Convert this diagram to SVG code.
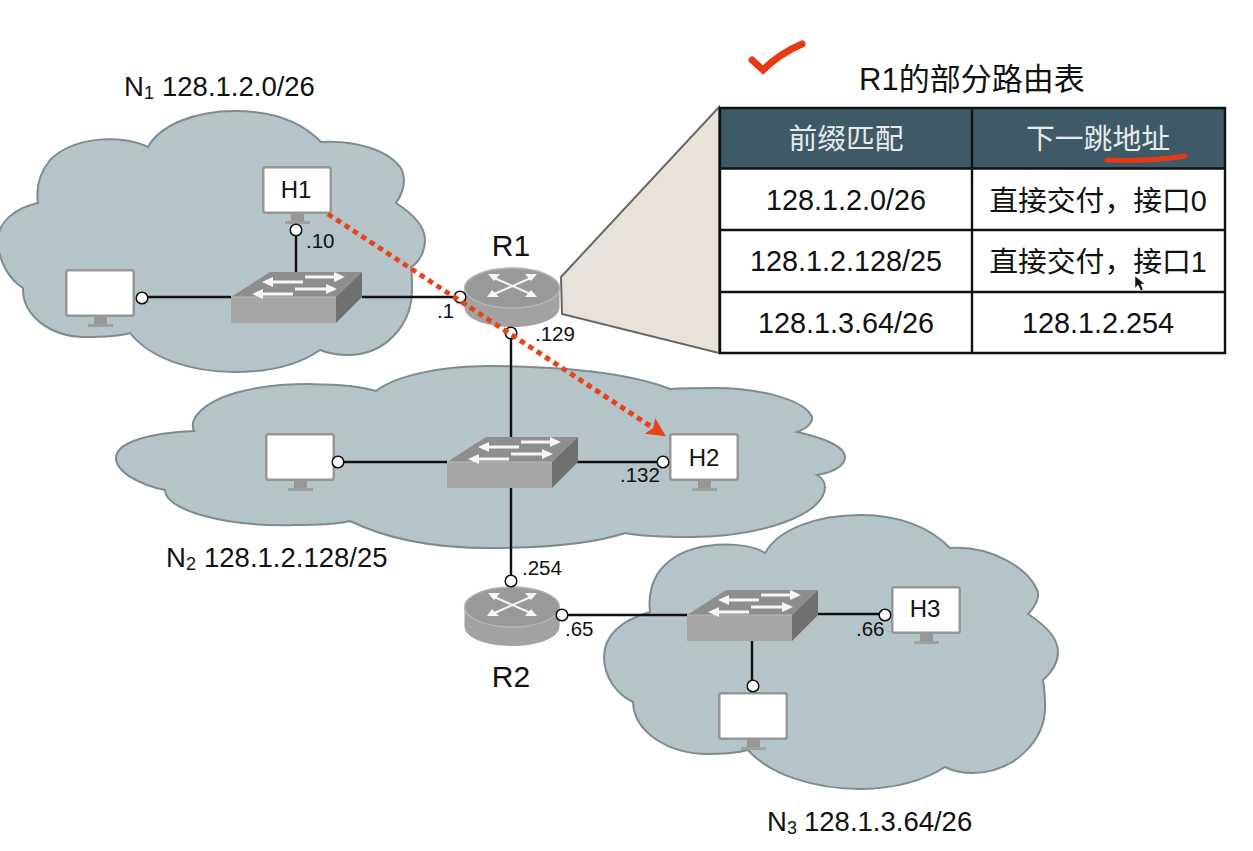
<svg xmlns="http://www.w3.org/2000/svg" xmlns:xlink="http://www.w3.org/1999/xlink" width="1253" height="851" viewBox="0 0 1253 851">
<style>
text{font-family:"Liberation Sans","Noto Sans CJK SC",sans-serif;fill:#111}
.cloud{fill:#b5c4c9;stroke:#7f8b8f;stroke-width:2}
.link{stroke:#111;stroke-width:2.4;fill:none}
.port{fill:#fff;stroke:#111;stroke-width:1.5}
.ip{font-size:20.500px}
.host{font-size:24px;text-anchor:middle}
.rname{font-size:30px;text-anchor:middle}
.net{font-size:27.500px}
.sub{font-size:18px}
.cell{font-size:28.800px;text-anchor:middle}
.head{font-size:28.800px;text-anchor:middle;fill:#e6ebec}
.grid{stroke:#111;stroke-width:2.4;fill:none}
.mark{fill:none;stroke:#e63a14;stroke-linecap:round}
</style>
<defs>
<marker id="redhead" markerUnits="userSpaceOnUse" viewBox="0 -11 22 22" markerWidth="22" markerHeight="22" refX="12" refY="0" orient="auto"><path d="M0 -9.5L19 0L0 9.5L4 0Z" fill="#e8431a"/></marker>
<g id="monitor">
<rect x="1.250" y="1.250" width="67.500" height="45.500" rx="2" fill="#fff" stroke="#979797" stroke-width="2.500"/>
<rect x="29" y="47" width="13" height="8" fill="#979797"/>
<rect x="23" y="55" width="25" height="3" fill="#a0a0a0"/>
</g>
<g id="switch">
<path d="M0 0L39 -25H131L105 0Z" fill="#8e8e8e"/>
<path d="M0 0H105V26H0Z" fill="#a6a6a6"/>
<path d="M105 0L131 -25V0L105 26Z" fill="#707070"/>
<path d="M0 0H105" stroke="#b8b8b8" stroke-width="1" fill="none"/>
<path d="M31 -15l11 -5v3.500h30v3h-30v3.500zM114 -20l-11 -5v3.500h-29v3h29v3.500zM21 -3l11 -5v3.500h30v3h-30v3.500zM106 -8l-11 -5v3.500h-31v3h31v3.500z" fill="#f6f6f6"/>
</g>
<g id="router">
<path d="M-47.500 0V19C-47.500 31 -26 39 0 39S47.500 31 47.500 19V0Z" fill="#a2a2a2"/>
<ellipse cx="0" cy="0" rx="47.500" ry="20" fill="#999" stroke="#b6b6b6" stroke-width="1.500"/>
<path d="M-20 -11L21 7M21 -11L-20 7" stroke="#f6f6f6" stroke-width="2" fill="none"/>
<path d="M-24 -14l12 0l-6 7zM25 -14l-12 0l6 7zM-25 9l12 0l-7 -7zM25 9l-12 0l6 -7z" fill="#f6f6f6"/>
</g>
</defs>
<rect width="1253" height="851" fill="#fff"/>
<g id="cloud-n1"><path class="cloud" d="M321 142C300 120 270 111 235 111C195 111 160 125 148 147C125 135 75 135 50 160C38 175 36 190 38 203C15 208 -2 222 -2 240C-2 262 10 280 23 288C22 315 50 337 85 337C105 337 120 336 130 333C150 358 190 372 235 372C270 372 300 364 320 350C330 354 340 355 348 355C385 355 413 325 412 287C412 280 412 273 411 267C420 262 425 250 425 240C425 225 410 212 396 203C405 190 405 178 402 170C390 150 355 140 321 142Z"/></g>
<g id="cloud-n2"><path class="cloud" d="M670 389C630 373 560 366 488 366C440 366 395 376 376 391C350 383 280 380 235 393C205 402 188 418 194 431C150 433 116 442 116 458C116 472 140 485 165 490C165 510 225 527 294 525C320 525 338 524 350 521C385 538 430 548 488 548C540 548 590 545 625 533C645 537 670 537 690 537C760 537 825 515 825 487C825 482 822 478 817 475C835 472 845 465 845 457C845 447 825 438 797 432C808 428 813 422 812 417C805 400 760 388 715 388C700 388 685 388 670 389Z"/></g>
<g id="cloud-n3"><path class="cloud" d="M950 548C930 527 898 515 861 515C815 515 778 530 765 553C745 540 690 540 665 565C652 577 648 595 650 612C622 620 604 635 604 657C604 678 618 695 633 702C634 732 668 754 708 754C723 754 737 753 748 750C770 775 815 789 861 789C895 789 925 780 945 767C955 772 965 773 972 773C1012 773 1047 742 1045 703C1045 695 1044 687 1043 680C1052 672 1058 663 1058 652C1058 637 1045 625 1028 614C1037 605 1040 595 1037 590C1028 568 990 545 950 548Z"/></g>
<g id="funnel"><path d="M561 277L719 107V353L562 314Z" fill="#e8e2da" stroke="#666" stroke-width="2"/></g>
<g id="table">
<rect x="720" y="108" width="505" height="61" fill="#3e5a67"/>
<rect x="720" y="169" width="505" height="184" fill="#fff"/>
<path class="grid" d="M720 108H1225V353H720ZM972 108V353M720 168.500H1225M720 230H1225M720 292H1225"/>
<text class="head" x="846" y="149">前缀匹配</text>
<text class="head" x="1098" y="149">下一跳地址</text>
<text class="cell" x="846" y="210">128.1.2.0/26</text>
<text class="cell" x="1098" y="211">直接交付，接口0</text>
<text class="cell" x="846" y="271">128.1.2.128/25</text>
<text class="cell" x="1098" y="272">直接交付，接口1</text>
<text class="cell" x="846" y="333">128.1.3.64/26</text>
<text class="cell" x="1098" y="333">128.1.2.254</text>
</g>
<text id="table-title" x="859" y="90" font-size="31">R1的部分路由表</text>
<g id="connectors">
<path class="link" d="M296 236V272M148 297H231M362 297H455M511 339V437M511 488V575M344 462H447M577 462H658M568 615H687M818 614H880M752 641V680"/>
</g>
<g id="h1"><use href="#monitor" x="262" y="166"/><text class="host" x="296" y="198">H1</text></g>
<g id="pc1"><use href="#monitor" x="65" y="269"/></g>
<g id="sw1"><use href="#switch" x="231" y="297"/></g>
<g id="r1"><use href="#router" x="512" y="288"/><text class="rname" x="511" y="256">R1</text></g>
<g id="pc2"><use href="#monitor" x="265" y="433"/></g>
<g id="sw2"><use href="#switch" x="447" y="462"/></g>
<g id="h2"><use href="#monitor" x="669" y="433"/><text class="host" x="704" y="466">H2</text></g>
<g id="r2"><use href="#router" x="512" y="607"/><text class="rname" x="511" y="687">R2</text></g>
<g id="sw3"><use href="#switch" x="687" y="615"/></g>
<g id="h3"><use href="#monitor" x="891" y="586"/><text class="host" x="925" y="617">H3</text></g>
<g id="pc3"><use href="#monitor" x="718" y="692"/></g>
<g id="ports">
<circle class="port" cx="296" cy="230" r="5.800"/>
<circle class="port" cx="142" cy="298" r="5.800"/>
<circle class="port" cx="460" cy="297" r="5.800"/>
<circle class="port" cx="511" cy="333" r="5.800"/>
<circle class="port" cx="338" cy="462" r="5.800"/>
<circle class="port" cx="663" cy="462" r="5.800"/>
<circle class="port" cx="511" cy="581" r="5.800"/>
<circle class="port" cx="562" cy="615" r="5.800"/>
<circle class="port" cx="885" cy="615" r="5.800"/>
<circle class="port" cx="753" cy="686" r="5.800"/>
</g>
<g id="labels">
<text class="net" x="124" y="96">N<tspan class="sub" dy="3">1</tspan><tspan x="162" dy="-3">128.1.2.0/26</tspan></text>
<text class="net" x="166" y="567">N<tspan class="sub" dy="3">2</tspan><tspan x="204" dy="-3">128.1.2.128/25</tspan></text>
<text class="net" x="767" y="831">N<tspan class="sub" dy="3">3</tspan><tspan x="804" dy="-3">128.1.3.64/26</tspan></text>
<text class="ip" x="306" y="248">.10</text>
<text class="ip" x="437" y="318">.1</text>
<text class="ip" x="535" y="341">.129</text>
<text class="ip" x="620" y="482">.132</text>
<text class="ip" x="522" y="575">.254</text>
<text class="ip" x="565" y="636">.65</text>
<text class="ip" x="856" y="636">.66</text>
</g>
<g id="flow">
<path d="M328 214L660 432.500" fill="none" stroke="#e8431a" stroke-width="5" stroke-dasharray="5.500 4.500" marker-end="url(#redhead)"/>
</g>
<g id="annotations">
<path class="mark" stroke-width="7" d="M752 60L763 70C775 58 788 50 802 44"/>
<path class="mark" stroke-width="5" d="M1107 160C1130 161 1160 160 1185 156"/>
<path d="M1135 276V288L1138 285L1141 291L1143 290L1141 284H1145Z" fill="#111" stroke="#fff" stroke-width=".5"/>
</g>
</svg>
